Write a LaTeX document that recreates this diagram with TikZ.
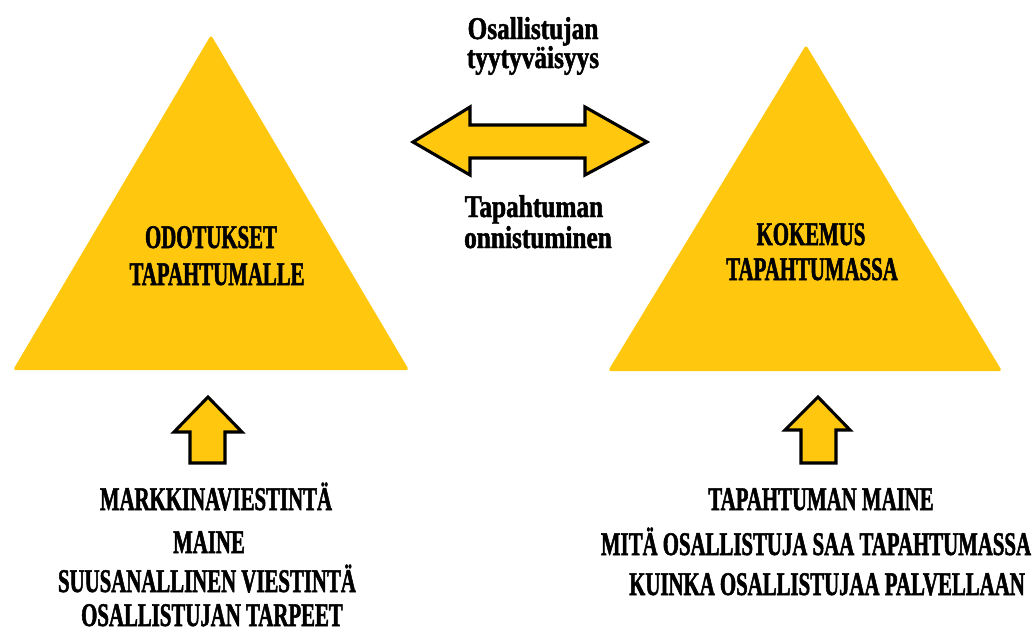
\documentclass[tikz,border=0pt]{standalone}
\usepackage{fontspec}
\setmainfont{Liberation Serif}[FakeStretch=0.63,FakeBold=1.5]
\newfontfamily\lowerfont{Liberation Serif}[FakeStretch=0.8,FakeBold=1.5]
\definecolor{gold}{RGB}{255,200,14}
\tikzset{
	trifill/.style={fill=gold,rounded corners=2pt},
	blockarrow/.style={fill=gold,draw=black,line width=2.2pt,line join=miter},
	capstext/.style={anchor=base,inner sep=0pt,font=\bfseries\fontsize{23.5}{26}\selectfont},
	midtext/.style={anchor=base,inner sep=0pt,font=\lowerfont\bfseries\fontsize{22.5}{25}\selectfont}
}
\begin{document}
\begin{tikzpicture}[x=0.025cm,y=-0.025cm]

	\useasboundingbox (0,0) rectangle (1034,634); % Whole page
	
	% The two triangles
	\coordinate (Lleft)  at (13,370);
	\coordinate (Lright) at (409,370);
	\coordinate (Ltop)   at (211,35);
	\coordinate (Rleft)  at (608,371);
	\coordinate (Rright) at (1002,371);
	\coordinate (Rtop)   at (806,45);
	\fill[trifill] (Lleft) -- (Lright) -- (Ltop) -- cycle;
	\fill[trifill] (Rleft) -- (Rright) -- (Rtop) -- cycle;
	\node (odotukset) at (211,248) [capstext] {ODOTUKSET};
	\node (tapahtumalle) at (217,285) [capstext] {TAPAHTUMALLE};
	\node (kokemus) at (811,245) [capstext] {KOKEMUS};
	\node (tapahtumassa) at (812,280) [capstext] {TAPAHTUMASSA};
	
	% Double arrow in the middle
	\draw[blockarrow] (413,142) -- (470,107) -- (470,125) -- (585,125) -- (585,107)
	  -- (647,142) -- (585,175) -- (585,158) -- (470,158) -- (470,175) -- cycle;
	\node (osallistujan) at (533,39) [midtext] {Osallistujan};
	\node (tyytyvaisyys) at (533,68) [midtext] {tyytyväisyys};
	\node (tapahtuman) at (534,217) [midtext] {Tapahtuman};
	\node (onnistuminen) at (538,248) [midtext] {onnistuminen};
	
	% Up arrows below the triangles
	\draw[blockarrow] (208,397) -- (242,432) -- (225,432) -- (225,463)
	  -- (190,463) -- (190,432) -- (174,432) -- cycle;
	\draw[blockarrow] (818,397) -- (850,430) -- (836,430) -- (836,463)
	  -- (801,463) -- (801,430) -- (785,430) -- cycle;
	
	% Lists under the left arrow
	\node (markkina) at (216,510) [capstext] {MARKKINAVIESTINTÄ};
	\node (maine) at (209,553) [capstext] {MAINE};
	\node (suusanallinen) at (207,592) [capstext] {SUUSANALLINEN VIESTINTÄ};
	\node (tarpeet) at (212,626) [capstext] {OSALLISTUJAN TARPEET};
	
	% Lists under the right arrow
	\node (tapmaine) at (821,510) [capstext] {TAPAHTUMAN MAINE};
	\node (mitasaa) at (816,555) [capstext] {MITÄ OSALLISTUJA SAA TAPAHTUMASSA};
	\node (palvellaan) at (827,595) [capstext] {KUINKA OSALLISTUJAA PALVELLAAN};

\end{tikzpicture}
\end{document}
